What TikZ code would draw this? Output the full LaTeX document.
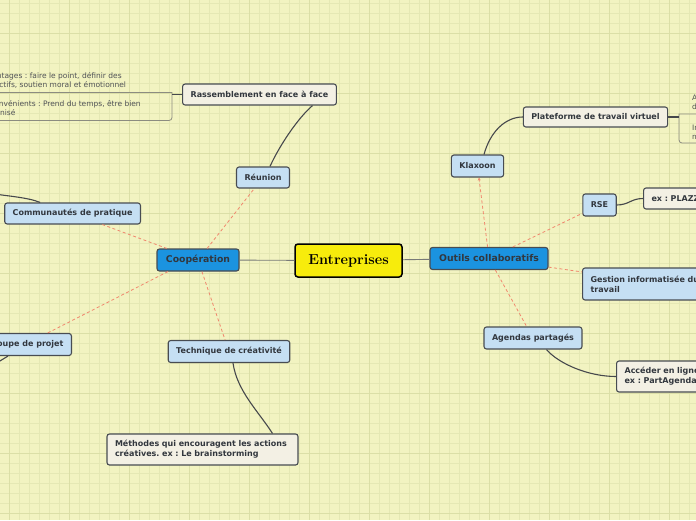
\documentclass[tikz,border=0pt]{standalone}
\usepackage{fontspec}
\setsansfont{DejaVu Sans}
\usetikzlibrary{arrows.meta}
\frenchspacing
\definecolor{paper}{RGB}{242,243,193}
\definecolor{gridminor}{RGB}{229,232,180}
\definecolor{gridmajor}{RGB}{219,223,167}
\definecolor{boxline}{RGB}{72,76,82}
\definecolor{boxtext}{RGB}{50,55,62}
\definecolor{mainblue}{RGB}{27,147,224}
\definecolor{lightblue}{RGB}{197,223,243}
\definecolor{cream}{RGB}{243,240,228}
\definecolor{rootyellow}{RGB}{247,236,12}
\definecolor{linkred}{RGB}{240,135,110}
\definecolor{branchgray}{RGB}{70,72,76}
\definecolor{trunkgray}{RGB}{120,122,120}
\definecolor{notetext}{RGB}{80,82,86}
\definecolor{noteframe}{RGB}{140,140,128}
\begin{document}
\begin{tikzpicture}[x=1pt, y=-1pt,
  root/.style={draw=black, line width=1.5pt, rounded corners=3pt, fill=rootyellow, font=\rmfamily\bfseries\fontsize{14.5}{16}\selectfont, minimum width=107pt, minimum height=33pt},
  topic/.style={draw=boxline, line width=1.1pt, rounded corners=2.5pt, fill=mainblue, text=boxtext, font=\sffamily\bfseries\fontsize{9.3}{11}\selectfont, inner xsep=8pt, minimum height=22pt},
  sub/.style={topic, fill=lightblue, font=\sffamily\bfseries\fontsize{8}{10}\selectfont, minimum height=21pt},
  leaf/.style={sub, fill=cream},
  note/.style={font=\sffamily\fontsize{7.5}{9.5}\selectfont, text=notetext, align=left, inner sep=0pt, anchor=west},
  link/.style={draw=linkred, line width=0.8pt, dash pattern=on 3pt off 2.5pt},
  branch/.style={draw=branchgray, line width=1.1pt},
  trunk/.style={draw=trunkgray, line width=0.9pt},
  frame/.style={draw=noteframe, line width=0.8pt}]
  \useasboundingbox (0,0) rectangle (696,520);
  \fill[paper] (0,0) rectangle (696,520);
  \foreach \i in {0,...,68} \draw[gridminor, line width=0.6pt] ({8.9+10*\i},0) -- ({8.9+10*\i},520);
  \foreach \i in {0,...,51} \draw[gridminor, line width=0.6pt] (0,{3.7+10*\i}) -- (696,{3.7+10*\i});
  \foreach \i in {0,...,11} \draw[gridmajor, line width=0.8pt] ({8.9+60*\i},0) -- ({8.9+60*\i},520);
  \foreach \i in {0,...,8} \draw[gridmajor, line width=0.8pt] (0,{33.7+60*\i}) -- (696,{33.7+60*\i});

  \node[root] (ent) at (348.5,260.5) {Entreprises};
  \node[topic, minimum width=82pt] (coop) at (198,260) {Coopération};
  \node[topic, minimum width=118pt] (outils) at (489,258.5) {Outils collaboratifs};

  \node[sub] (reunion) at (263,177.5) {Réunion};
  \node[leaf] (rass) at (259.5,94.5) {Rassemblement en face à face};
  \node[sub, anchor=east] (comm) at (141,213.5) {Communautés de pratique};
  \node[sub, anchor=east, minimum height=22pt] (groupe) at (72,344.5) {Groupe de projet};
  \node[sub, minimum height=22pt] (tech) at (229,351.5) {Technique de créativité};
  \node[leaf, text width=175pt, minimum height=31pt, align=left] (meth) at (202.5,449.5) {Méthodes qui encouragent les actions\\créatives. ex : Le brainstorming};

  \node[sub, minimum height=22pt] (klax) at (477.5,166) {Klaxoon};
  \node[leaf, minimum height=20pt] (plat) at (595.5,117) {Plateforme de travail virtuel};
  \node[sub, minimum height=22pt] (rse) at (599.5,205) {RSE};
  \node[leaf, anchor=west, text width=80pt, align=left] (plazza) at (643,198.5) {ex : PLAZZA};
  \node[sub, anchor=west, text width=150pt, align=left, minimum height=32pt] (gestion) at (582,284) {Gestion informatisée du\\travail};
  \node[sub, minimum height=22pt] (agenda) at (533,338) {Agendas partagés};
  \node[leaf, anchor=west, text width=150pt, align=left, minimum height=31pt] (acces) at (616,376.5) {Accéder en ligne\\ex : PartAgenda};

  % notes
  \coordinate (lframe) at (172,92.5);
  \draw[frame] (-5,92.5) -- (lframe) [rounded corners=3pt] -- (172,120.5) -- (-5,120.5);
  \node[note] (adv) at (-17,80.8) {Avantages : faire le point, définir des\\objectifs, soutien moral et émotionnel};
  \node[note] (inc) at (-17,108.8) {Inconvénients : Prend du temps, être bien\\organisé};
  \coordinate (rframe) at (679,114);
  \draw[frame] (705,114) -- (rframe) [rounded corners=3pt] -- (679,143) -- (705,143);
  \node[note] (adv2) at (692,103) {Avantages :\\disponibilité};
  \node[note] (inc2) at (692,132) {Inconvénients :\\maîtrise};

  \draw[trunk] (coop) -- (ent);
  \draw[trunk] (ent) -- (outils);

  \draw[link] (coop) -- (reunion);
  \draw[link] (coop) -- (comm);
  \draw[link] ([xshift=-30pt]coop.south) -- (groupe);
  \draw[link] (coop) -- (tech);
  \draw[link, -{Stealth[length=3pt, width=3pt]}] (outils) -- (klax);
  \draw[link] (outils) -- (rse);
  \draw[link] (outils) -- (gestion);
  \draw[link] (outils) -- (agenda);

  \draw[branch] ([xshift=7pt]reunion.north) .. controls +(10,-22) and +(-14,12) .. ([xshift=53pt]rass.south);
  \draw[branch] (rass.west) -- (rass.west -| lframe);
  \draw[branch] ([xshift=6.5pt]klax.north) .. controls +(6,-22) and +(-18,0) .. (plat.west);
  \draw[branch] (plat.east) -- (plat.east -| rframe);
  \draw[branch] (rse.east) .. controls +(12,0) and +(-12,0) .. (plazza.west);
  \draw[branch] ([xshift=13.5pt]agenda.south) .. controls +(12,14) and +(-28,0) .. (acces.west);
  \draw[branch] ([xshift=4pt]tech.south) .. controls +(4,28) and +(-14,-22) .. ([xshift=70pt]meth.north);
  \coordinate (commout) at (-5,194);
  \draw[branch] ([xshift=36pt]comm.north west) .. controls +(-12,-5) and +(12,2) .. (commout);
  \coordinate (groupout) at (-5,364);
  \draw[branch] ([xshift=-64pt]groupe.south east) -- (groupout);
\end{tikzpicture}
\end{document}
